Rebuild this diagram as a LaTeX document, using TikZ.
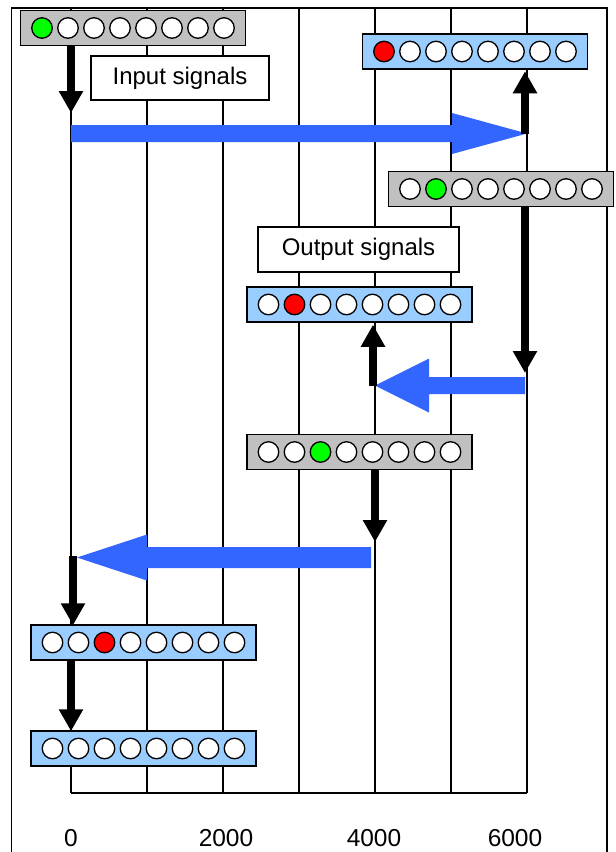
\documentclass[tikz,border=0pt]{standalone}
\usepackage{fontspec}
\setmainfont{Liberation Sans}
\usetikzlibrary{arrows.meta,calc}

\definecolor{flowblue}{RGB}{51,102,255}
\definecolor{regblue}{RGB}{153,204,255}
\definecolor{reggrey}{RGB}{192,192,192}
\definecolor{litgreen}{RGB}{0,255,0}
\definecolor{litred}{RGB}{255,0,0}

% A register: a box holding eight bits, one of which may be lit.
% #1 name, #2 centre, #3 box fill, #4 lit bit (0 = none), #5 lit colour
\newcommand\register[5]{%
  \node[regbox, fill=#3] (#1) at #2 {};
  \foreach \k in {1,...,8}{%
    \ifnum\k=#4 \def\regcol{#5}\else\def\regcol{white}\fi
    \node[bit, fill=\regcol] (#1-\k) at ([xshift=(\k-4.5)*26pt]#1.center) {};
  }%
}

% A broad horizontal signal arrow.
% #1 tail, #2 tip, #3 half shaft, #4 head length (signed, towards tail), #5 half head
\newcommand\bigarrow[5]{%
  \fill[flowblue] ($(#1)+(0,-#3)$) -- ($(#2)+(#4,-#3)$) -- ($(#2)+(#4,-#5)$)
    -- (#2) -- ($(#2)+(#4,#5)$) -- ($(#2)+(#4,#3)$) -- ($(#1)+(0,#3)$) -- cycle;
}

\begin{document}
\begin{tikzpicture}[x=1pt,y=-1pt,
  gridline/.style={line width=1.5pt},
  regbox/.style={draw, line width=1.5pt, minimum width=225pt, minimum height=35pt, inner sep=0pt},
  bit/.style={draw, circle, line width=1.3pt, minimum size=20.5pt, inner sep=0pt},
  labelbox/.style={draw, fill=white, line width=1.5pt, inner sep=0pt,
    font=\fontsize{24}{28}\selectfont},
  axislabel/.style={inner sep=0pt, font=\fontsize{24.5}{28}\selectfont},
  flow/.style={line width=7.5pt, -{Triangle[length=22pt,width=23pt]}},
]
\useasboundingbox (0,0) rectangle (616,852);

% time grid
\foreach \i in {0,...,6}
  \coordinate (g\i) at (71+76*\i, 8);
\foreach \i in {0,...,6}
  \draw[gridline] (g\i) -- (71+76*\i, 793);
\draw[gridline] (71,793) -- (527,793);

% outer frame
\draw[gridline] (11.5,852) -- (11.5,8) -- (607,8) -- (607,852);

% axis labels
\node[axislabel] (t0) at (71,838.5) {0};
\node[axislabel] (t2) at (226,838.5) {2000};
\node[axislabel] (t4) at (374,838.5) {4000};
\node[axislabel] (t6) at (515,838.5) {6000};

% captions
\node[labelbox, minimum width=178pt, minimum height=44pt] (inlabel) at (180,78) {Input signals};
\node[labelbox, minimum width=201pt, minimum height=45pt] (outlabel) at (358.5,249.5) {Output signals};

% signal arrows
\coordinate (in1) at (71,133.5);  \coordinate (in2) at (527,133.5);
\coordinate (mid1) at (525,385.5); \coordinate (mid2) at (375,385.5);
\coordinate (back1) at (371,557.5); \coordinate (back2) at (77,557.5);
\bigarrow{in1}{in2}{8.5}{-75}{20.5}
\bigarrow{mid1}{mid2}{8.5}{54}{27}
\bigarrow{back1}{back2}{10.5}{70}{23}

% registers
\register{r1}{(133,28)}{reggrey}{1}{litgreen}
\register{r2}{(475,51.5)}{regblue}{1}{litred}
\register{r3}{(501,189)}{reggrey}{2}{litgreen}
\register{r5}{(359.5,304.5)}{regblue}{2}{litred}
\register{r6}{(359.5,452)}{reggrey}{3}{litgreen}
\register{r7}{(143.5,642.5)}{regblue}{3}{litred}
\register{r8}{(143.5,748.5)}{regblue}{0}{white}

% transfers
\coordinate (aend) at (71,113);
\draw[flow] (r1.south -| g0) -- (aend);
\draw[flow] (525,134) -- ([yshift=-1.5pt]r2.south -| 525,0);
\draw[flow] (r3.south -| 525,0) -- (525,373);
\draw[flow] (373,385.5) -- ([yshift=-2pt]r5.south -| 373,0);
\draw[flow] (r6.south -| g4) -- (375,542);
\draw[flow] (73,556) -- ([yshift=-1pt]r7.north -| 73,0);
\draw[flow] (r7.south -| g0) -- ([yshift=-1pt]r8.north -| g0);
\end{tikzpicture}
\end{document}
